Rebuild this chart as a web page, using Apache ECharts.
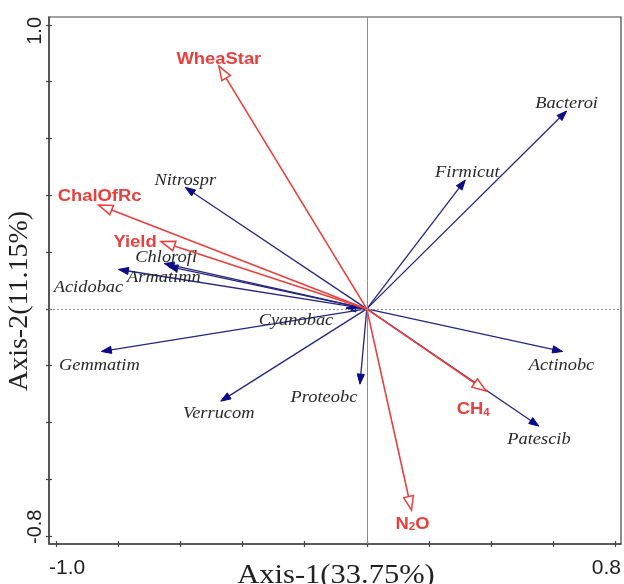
<!DOCTYPE html>
<html>
<head>
<meta charset="utf-8">
<script src="https://cdn.jsdelivr.net/npm/echarts@6/dist/echarts.min.js"></script>
<style>html,body{margin:0;padding:0;background:#fff;}#chart{width:624px;height:584px;}</style>
</head>
<body>
<div id="chart"></div>
<script>
// Environmental factors (red, hollow arrowheads)
const envNames = ['WheaStar', 'ChalOfRc', 'Yield', 'CH4', 'N2O'];
const envAxis1 = [-0.476, -0.863, -0.662, 0.384, 0.144];
const envAxis2 = [0.855, 0.366, 0.237, -0.289, -0.709];

// Taxa (blue, filled arrowheads)
const taxaNames = ['Nitrospr', 'Chlorofl', 'Armatimn', 'Acidobac', 'Cyanobac', 'Gemmatim', 'Verrucom', 'Proteobc', 'Actinobc', 'Patescib', 'Firmicut', 'Bacteroi'];
const taxaAxis1 = [-0.584, -0.652, -0.640, -0.799, -0.067, -0.854, -0.470, -0.022, 0.630, 0.554, 0.317, 0.643];
const taxaAxis2 = [0.428, 0.160, 0.150, 0.139, 0.003, -0.150, -0.325, -0.265, -0.150, -0.413, 0.454, 0.697];

// Axis ticks / labels
const xTicks = [-1.0, -0.8, -0.6, -0.4, -0.2, 0, 0.2, 0.4, 0.6, 0.8];
const yTicks = [-0.8, -0.6, -0.4, -0.2, 0, 0.2, 0.4, 0.6, 0.8, 1.0];
const xLabelText = ['-1.0', '0.8'];
const yLabelText = ['-0.8', '1.0'];
const xTitle = 'Axis-1(33.75%)';
const yTitle = 'Axis-2(11.15%)';

// axis extents (frame slightly beyond end ticks)
const X_MIN = -1.0225, X_MAX = 0.818, Y_MIN = -0.828, Y_MAX = 1.028;

// label pixel offsets from arrow tips (layout only)
const envLabelOffset = [[0, -7], [1, -8], [-26, 1], [-13, 19], [1, 14]];
const taxaLabelOffset = [[0, -7], [2, -6], [-4, 11], [-30, 18], [-50, 13], [-2, 14], [-2, 13], [-36, 14], [-1, 14], [0, 14], [2, -7], [0, -7]];

const RED = '#e8403d';
const BLUE = '#26267f';
const BLUE_HEAD = '#0c0c86';

const envRich = {
  'CH4': '{m|CH}{s|4}',
  'N2O': '{m|N}{s|2}{m|O}'
};

function makeRender(isRed, names, offsets) {
  return function (params, api) {
    const i = params.dataIndex;
    const x = api.value(0), y = api.value(1);
    const o = api.coord([0, 0]);
    const t = api.coord([x, y]);
    const dx = t[0] - o[0], dy = t[1] - o[1];
    const len = Math.sqrt(dx * dx + dy * dy) || 1;
    const ux = dx / len, uy = dy / len;
    const hl = isRed ? 14 : 10, hw = isRed ? 5 : 3.6;
    const b = [t[0] - ux * hl, t[1] - uy * hl];
    const px = -uy, py = ux;
    const tri = [[t[0], t[1]], [b[0] + px * hw, b[1] + py * hw], [b[0] - px * hw, b[1] - py * hw]];
    const color = isRed ? RED : BLUE;
    const name = names[i];
    const off = offsets[i];
    let textStyle;
    if (isRed) {
      textStyle = {
        text: envRich[name] || ('{m|' + name + '}'),
        align: 'center', verticalAlign: 'middle',
        rich: {
          m: { fontFamily: 'Liberation Sans, Arial, sans-serif', fontWeight: 'bold', fontSize: 16, fill: RED },
          s: { fontFamily: 'Liberation Sans, Arial, sans-serif', fontWeight: 'bold', fontSize: 10, fill: RED, padding: [6, 0, 0, 0] }
        }
      };
    } else {
      textStyle = {
        text: name,
        align: 'center', verticalAlign: 'middle',
        fontFamily: 'Liberation Serif, Times New Roman, serif',
        fontStyle: 'italic', fontSize: 16, fill: '#2a2a2a'
      };
    }
    return {
      type: 'group',
      children: [
        { type: 'line', shape: { x1: o[0], y1: o[1], x2: b[0], y2: b[1] }, style: { stroke: color, lineWidth: isRed ? 1.6 : 1.3 } },
        { type: 'polygon', shape: { points: tri }, style: { fill: isRed ? '#ffffff' : BLUE_HEAD, stroke: isRed ? RED : BLUE_HEAD, lineWidth: isRed ? 1.5 : 1 } },
        { type: 'text', x: t[0] + off[0], y: t[1] + off[1], scaleX: 1.15, style: textStyle, z2: 10 }
      ]
    };
  };
}

const envData = envNames.map((n, i) => [envAxis1[i], envAxis2[i]]);
const taxaData = taxaNames.map((n, i) => [taxaAxis1[i], taxaAxis2[i]]);

const axisColor = '#444444';
const chart = echarts.init(document.getElementById('chart'), null, { renderer: 'canvas' });
chart.setOption({
  backgroundColor: '#ffffff',
  animation: false,
  grid: { left: 49, right: 2, top: 17, bottom: 40, show: true, borderColor: axisColor, borderWidth: 1.2, backgroundColor: 'transparent' },
  xAxis: [{
    type: 'value', min: X_MIN, max: X_MAX, position: 'bottom',
    axisLine: { show: true, onZero: false, lineStyle: { color: axisColor, width: 1.5 } },
    axisTick: { show: true, customValues: xTicks, length: 3, lineStyle: { color: axisColor, width: 1.2 } },
    axisLabel: {
      customValues: [X_MIN, X_MAX],
      formatter: v => (v < 0 ? xLabelText[0] : xLabelText[1]),
      alignMinLabel: 'left', alignMaxLabel: 'right',
      margin: 14, color: '#222', fontSize: 21, fontFamily: 'Liberation Sans, Arial, sans-serif'
    },
    splitLine: { show: false }
  }, {
    type: 'value', min: X_MIN, max: X_MAX, position: 'bottom',
    axisLine: { show: false, onZero: false },
    axisTick: { show: true, inside: true, customValues: xTicks, length: 3, lineStyle: { color: axisColor, width: 1.2 } },
    axisLabel: { show: false }, splitLine: { show: false }
  }],
  yAxis: [{
    type: 'value', min: Y_MIN, max: Y_MAX, position: 'left',
    axisLine: { show: true, onZero: false, lineStyle: { color: axisColor, width: 1.5 } },
    axisTick: { show: true, customValues: yTicks, length: 3, lineStyle: { color: axisColor, width: 1.2 } },
    axisLabel: {
      customValues: [Y_MIN, Y_MAX],
      formatter: v => (v < 0 ? yLabelText[0] : yLabelText[1]),
      rotate: 90,
      alignMinLabel: 'left', alignMaxLabel: 'right',
      margin: 4, color: '#222', fontSize: 20, fontFamily: 'Liberation Sans, Arial, sans-serif'
    },
    splitLine: { show: false }
  }, {
    type: 'value', min: Y_MIN, max: Y_MAX, position: 'left',
    axisLine: { show: false, onZero: false },
    axisTick: { show: true, inside: true, customValues: yTicks, length: 3, lineStyle: { color: axisColor, width: 1.2 } },
    axisLabel: { show: false }, splitLine: { show: false }
  }],
  graphic: [
    { type: 'text', x: 336, y: 576, scaleX: 1.13, style: { text: xTitle, fontFamily: 'Liberation Serif, Times New Roman, serif', fontSize: 27, fill: '#222', align: 'center', verticalAlign: 'middle' } },
    { type: 'text', x: 20, y: 301, rotation: Math.PI / 2, style: { text: yTitle, fontFamily: 'Liberation Serif, Times New Roman, serif', fontSize: 28, fill: '#222', align: 'center', verticalAlign: 'middle' } }
  ],
  series: [
    {
      type: 'line', data: [], silent: true, z: 1,
      markLine: {
        symbol: 'none', silent: true, label: { show: false },
        data: [
          { xAxis: 0, lineStyle: { color: '#8c8c8c', width: 1, type: 'solid' } },
          { yAxis: 0, lineStyle: { color: '#8c8c8c', width: 1, type: [2, 2] } }
        ]
      }
    },
    { type: 'custom', name: 'taxa', data: taxaData, renderItem: makeRender(false, taxaNames, taxaLabelOffset), z: 3 },
    { type: 'custom', name: 'env', data: envData, renderItem: makeRender(true, envNames, envLabelOffset), z: 4 }
  ]
});
</script>
</body>
</html>
